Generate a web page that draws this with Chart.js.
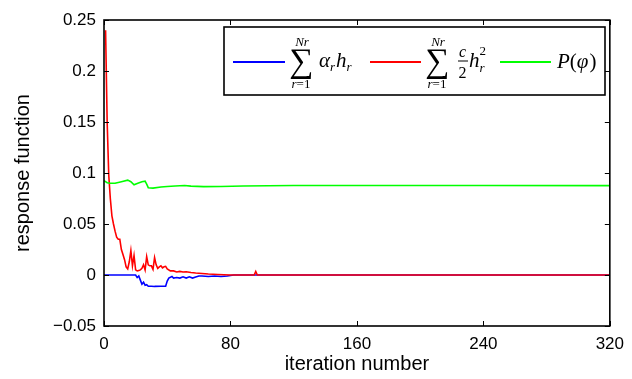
<!DOCTYPE html>
<html>
<head>
<meta charset="utf-8">
<script src="https://cdn.jsdelivr.net/npm/chart.js@4/dist/chart.umd.min.js"></script>
<style>
  html, body { margin: 0; padding: 0; background: #fff; }
</style>
</head>
<body>
<canvas id="chart" width="632" height="379"></canvas>
<script>
// axis ticks
const xTicks = [0, 80, 160, 240, 320];
const yTicks = [-0.05, 0, 0.05, 0.1, 0.15, 0.2, 0.25];

// sum of alpha_r h_r
const alphaIter = [0, 20, 21, 22, 23, 24, 25, 26, 27, 28, 30, 32, 36, 39, 40, 41, 43, 44, 46, 48, 50, 52, 54, 56, 58, 60, 62, 66, 70, 74, 78, 82, 320];
const alphaVals = [0, 0, -0.0025, -0.001, -0.005, -0.009, -0.007, -0.010, -0.0095, -0.011, -0.011, -0.0112, -0.011, -0.011, -0.006, -0.003, -0.0015, -0.003, -0.0025, -0.003, -0.0018, -0.003, -0.0018, -0.003, -0.002, -0.001, -0.001, -0.0015, -0.001, -0.0015, -0.001, 0, 0];

// sum of c/2 h_r^2
const quadIter = [1, 2, 3, 4, 5, 6, 7, 8, 9, 10, 11, 12, 13, 14, 15, 16, 17, 18, 19, 20, 21, 22, 23, 24, 25, 26, 27, 28, 29, 30, 31, 32, 33, 34, 35, 36, 37, 38, 39, 40, 42, 44, 46, 48, 50, 52, 55, 58, 62, 66, 72, 80, 95, 96, 97, 320];
const quadVals = [0.24, 0.15, 0.098, 0.075, 0.058, 0.05, 0.043, 0.037, 0.035, 0.035, 0.025, 0.02, 0.015, 0.008, 0.006, 0.013, 0.024, 0.009, 0.019, 0.005, 0.004, 0.0045, 0.005, 0.0065, 0.01, 0.005, 0.018, 0.01, 0.009, 0.009, 0.0055, 0.017, 0.01, 0.0065, 0.008, 0.009, 0.007, 0.008, 0.0085, 0.006, 0.004, 0.004, 0.003, 0.0035, 0.003, 0.0032, 0.0025, 0.002, 0.0015, 0.001, 0.0005, 0, 0, 0.0035, 0, 0];

// P(phi)
const penIter = [0, 2, 4, 7, 11, 15, 17, 19, 21, 24, 26, 27, 28, 31, 36, 40, 45, 51, 55, 63, 74, 88, 120, 160, 240, 320];
const penVals = [0.0925, 0.0905, 0.09, 0.09, 0.0915, 0.093, 0.0915, 0.0885, 0.0898, 0.0915, 0.092, 0.089, 0.0856, 0.0852, 0.0862, 0.0868, 0.0873, 0.0878, 0.0871, 0.0866, 0.0868, 0.0873, 0.0877, 0.0878, 0.0877, 0.0876];

const toPoints = (xs, ys) => xs.map((x, i) => ({ x, y: ys[i] }));

// later series are painted over earlier ones
const series = [
  { data: toPoints(alphaIter, alphaVals), color: "#0000ff", order: 3 },
  { data: toPoints(quadIter, quadVals), color: "#ff0000", order: 2 },
  { data: toPoints(penIter, penVals), color: "#00ff00", order: 1 },
];

const sans = '"Liberation Sans", Arial, sans-serif';
const serif = '"Liberation Serif", "Times New Roman", serif';

function fmtY(v) {
  if (Math.abs(v) < 1e-9) return "0";
  return String(+v.toFixed(2)).replace("-", "\u2212");
}

// box around the plot with inward ticks on all four sides
const frame = {
  id: "frame",
  afterDatasetsDraw(chart) {
    const { ctx, chartArea: a, scales } = chart;
    ctx.save();
    ctx.strokeStyle = "#000";
    ctx.lineWidth = 1;
    const tl = 5;
    ctx.beginPath();
    xTicks.forEach((v) => {
      const px = Math.round(scales.x.getPixelForValue(v)) + 0.5;
      ctx.moveTo(px, a.bottom); ctx.lineTo(px, a.bottom - tl);
      ctx.moveTo(px, a.top); ctx.lineTo(px, a.top + tl);
    });
    yTicks.forEach((v) => {
      const py = Math.round(scales.y.getPixelForValue(v)) + 0.5;
      ctx.moveTo(a.left, py); ctx.lineTo(a.left + tl, py);
      ctx.moveTo(a.right, py); ctx.lineTo(a.right - tl, py);
    });
    ctx.stroke();
    ctx.lineWidth = 1.6;
    ctx.strokeRect(a.left, a.top, a.right - a.left, a.bottom - a.top);
    ctx.restore();
  },
};

function put(ctx, text, x, y, size, italic, align) {
  ctx.font = (italic ? "italic " : "") + size + "px " + serif;
  ctx.textAlign = align || "left";
  ctx.fillText(text, x, y);
  ctx.textAlign = "left";
  return ctx.measureText(text).width;
}

// sum sign with limits r=1 .. Nr
function sumSign(ctx, cx) {
  put(ctx, "\u2211", cx, 72, 34, false, "center");
  put(ctx, "Nr", cx + 1, 46, 13, true, "center");
  ctx.font = "italic 13px " + serif;
  const wr = ctx.measureText("r").width;
  ctx.font = "13px " + serif;
  const we = ctx.measureText("=1").width;
  const x0 = cx - (wr + we) / 2;
  put(ctx, "r", x0, 88, 13, true);
  put(ctx, "=1", x0 + wr, 88, 13, false);
}

const mathLegend = {
  id: "mathLegend",
  afterDraw(chart) {
    const ctx = chart.ctx;
    ctx.save();
    ctx.fillStyle = "#fff";
    ctx.fillRect(224, 27, 381, 68);
    ctx.strokeStyle = "#000";
    ctx.lineWidth = 1.6;
    ctx.strokeRect(224, 27, 381, 68);

    const samples = [[233, 285], [370, 421], [500, 551]];
    chart.data.datasets.forEach((ds, i) => {
      ctx.strokeStyle = ds.borderColor;
      ctx.lineWidth = 2;
      ctx.beginPath();
      ctx.moveTo(samples[i][0], 62);
      ctx.lineTo(samples[i][1], 62);
      ctx.stroke();
    });

    ctx.fillStyle = "#000";
    ctx.textBaseline = "alphabetic";

    // sum alpha_r h_r
    sumSign(ctx, 301);
    let x = 319;
    x += put(ctx, "\u03b1", x, 67, 21, true);
    x += put(ctx, "r", x, 71, 13, true) + 1;
    x += put(ctx, "h", x, 67, 21, true);
    put(ctx, "r", x, 71, 13, true);

    // sum c/2 h_r^2
    sumSign(ctx, 437);
    put(ctx, "c", 462.5, 57, 16, true, "center");
    ctx.fillRect(458, 60.5, 10, 1);
    put(ctx, "2", 462.5, 78, 16, false, "center");
    x = 469;
    x += put(ctx, "h", x, 67, 21, true);
    put(ctx, "2", x, 55, 13, false);
    put(ctx, "r", x, 72, 13, true);

    // P(phi)
    x = 557;
    x += put(ctx, "P", x, 68, 21, true);
    x += put(ctx, "(", x, 68, 21, false);
    x += put(ctx, "\u03c6", x, 68, 21, true);
    put(ctx, ")", x + 1, 68, 21, false);
    ctx.restore();
  },
};

new Chart(document.getElementById("chart"), {
  type: "line",
  data: {
    datasets: series.map((s) => ({
      data: s.data,
      order: s.order,
      borderColor: s.color,
      backgroundColor: s.color,
      borderWidth: 1.6,
      pointRadius: 0,
      tension: 0,
      fill: false,
    })),
  },
  options: {
    responsive: false,
    animation: false,
    layout: { padding: { top: 20, right: 18, left: 0, bottom: 0 } },
    plugins: { legend: { display: false }, tooltip: { enabled: false } },
    scales: {
      x: {
        type: "linear",
        min: 0,
        max: 320,
        afterBuildTicks: (s) => { s.ticks = xTicks.map((v) => ({ value: v })); },
        afterFit: (s) => { s.height = 53; },
        grid: { display: false, drawTicks: false },
        border: { display: false },
        ticks: { color: "#000", padding: 8, maxRotation: 0, font: { family: sans, size: 17 } },
        title: {
          display: true,
          text: "iteration number",
          color: "#000",
          font: { family: sans, size: 20 },
          padding: { top: 0, bottom: 3 },
        },
      },
      y: {
        min: -0.05,
        max: 0.25,
        afterBuildTicks: (s) => { s.ticks = yTicks.map((v) => ({ value: v })); },
        afterFit: (s) => { s.width = 104; },
        grid: { display: false, drawTicks: false },
        border: { display: false },
        ticks: { color: "#000", padding: 8, callback: fmtY, font: { family: sans, size: 17 } },
        title: {
          display: true,
          text: "response function",
          color: "#000",
          font: { family: sans, size: 20 },
          padding: { top: 11, bottom: 0 },
        },
      },
    },
  },
  plugins: [frame, mathLegend],
});
</script>
</body>
</html>
